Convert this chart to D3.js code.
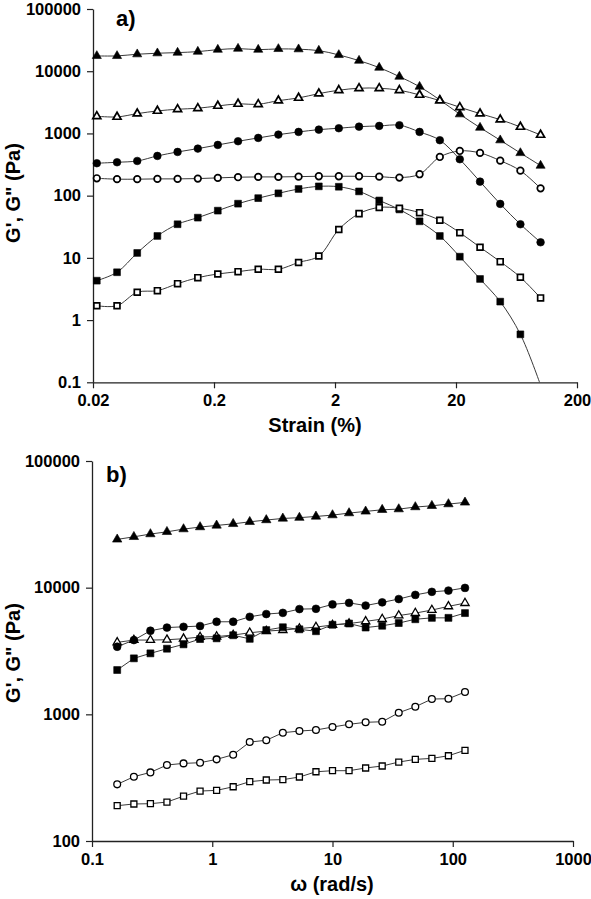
<!DOCTYPE html>
<html>
<head>
<meta charset="utf-8">
<script src="https://cdn.jsdelivr.net/npm/d3@7"></script>
<style>
  html, body { margin: 0; padding: 0; background: #fff; }
  svg { display: block; }
  text { font-family: "Liberation Sans", Arial, sans-serif; font-weight: bold; fill: #000; }
</style>
</head>
<body>
<svg id="chart" width="591" height="899"></svg>
<script>
// ---------- Panel a) : strain sweep ----------
const strain = [0.0215, 0.0316, 0.0464, 0.0681, 0.1, 0.147, 0.215, 0.316, 0.464, 0.681, 1, 1.47, 2.15, 3.16, 4.64, 6.81, 10, 14.7, 21.5, 31.6, 46.4, 68.1, 100];
const aFilledTriangle = [17620, 17620, 18760, 19460, 19910, 20650, 22230, 23070, 22230, 22830, 22580, 21440, 18280, 14800, 11430, 8190, 5650, 3456, 2035, 1240, 778, 485, 304];
const aOpenTriangle = [1890, 1841, 2080, 2300, 2449, 2541, 2768, 2980, 2945, 3366, 3720, 4365, 4950, 5330, 5330, 4950, 4160, 3366, 2638, 2080, 1667, 1272, 946];
const aFilledCircle = [332, 344, 361, 435, 504, 570, 653, 749, 847, 957, 1057, 1151, 1212, 1285, 1320, 1355, 1057, 778, 385, 168, 73.6, 34.7, 17.8];
const aOpenCircle = [190, 184, 184, 186, 186, 188, 193, 198, 200, 200, 202, 205, 205, 205, 202, 195, 221, 419, 523, 486, 365, 252, 131];
const aFilledSquare = [4.30, 5.87, 12.0, 22.5, 34.7, 44.3, 57.4, 74.3, 91.2, 109, 128, 141, 139, 117, 83.7, 60, 38.7, 22.5, 10.45, 4.58, 1.98, 0.59, 0.09];
const aOpenSquare = [1.70, 1.70, 2.80, 2.97, 3.85, 4.81, 5.51, 6.00, 6.56, 6.56, 8.43, 10.7, 28.6, 51.4, 64.6, 62.7, 53.3, 40.2, 25.4, 14.8, 8.69, 4.88, 2.27];
const aYTicks = [0.1, 1, 10, 100, 1000, 10000, 100000];
const aYTickLabels = ["0.1", "1", "10", "100", "1000", "10000", "100000"];
const aXTicks = [0.02, 0.2, 2, 20, 200];
const aXTickLabels = ["0.02", "0.2", "2", "20", "200"];

// ---------- Panel b) : frequency sweep ----------
const omega = [0.162, 0.223, 0.306, 0.420, 0.577, 0.792, 1.087, 1.493, 2.050, 2.814, 3.864, 5.306, 7.286, 10.0, 13.73, 18.86, 25.90, 35.56, 48.83, 67.05, 92.07, 126.4];
const bFilledTriangle = [24050, 25200, 26500, 27600, 29000, 30100, 31000, 31900, 33100, 34200, 35200, 35700, 36500, 37400, 38800, 40000, 41200, 41700, 43300, 44300, 45700, 47100];
const bOpenTriangle = [3700, 3858, 3858, 3880, 3953, 4075, 4110, 4225, 4405, 4542, 4625, 4754, 4887, 5070, 5210, 5420, 5650, 6024, 6300, 6657, 7118, 7554];
const bFilledCircle = [3417, 3858, 4570, 4842, 4910, 4977, 5380, 5380, 5890, 6190, 6325, 6775, 6810, 7380, 7585, 7225, 7655, 8130, 8770, 9270, 9485, 9960];
const bOpenCircle = [280, 322, 348, 398, 410, 415, 441, 480, 604, 624, 716, 738, 752, 794, 834, 865, 874, 1030, 1148, 1321, 1328, 1500];
const bFilledSquare = [2238, 2767, 3030, 3296, 3568, 3930, 3980, 4210, 3945, 4625, 4870, 4690, 4530, 5095, 5210, 4842, 5003, 5256, 5632, 5777, 5777, 6300];
const bOpenSquare = [190, 196, 197, 203, 226, 248, 251, 268, 294, 303, 305, 320, 352, 359, 359, 377, 391, 420, 441, 449, 471, 520];
const bYTicks = [100, 1000, 10000, 100000];
const bYTickLabels = ["100", "1000", "10000", "100000"];
const bXTicks = [0.1, 1, 10, 100, 1000];
const bXTickLabels = ["0.1", "1", "10", "100", "1000"];

const yTitle = "G', G\" (Pa)";
const aXTitle = "Strain (%)";
const bXTitle = "ω (rad/s)";

const svg = d3.select("#chart");

function drawPanel(cfg) {
  const x = d3.scaleLog().domain(cfg.xDomain).range(cfg.xRange);
  const y = d3.scaleLog().domain(cfg.yDomain).range(cfg.yRange);
  const g = svg.append("g");

  const clipId = "clip-" + cfg.id;
  svg.append("clipPath").attr("id", clipId).append("rect")
    .attr("x", cfg.xRange[0]).attr("y", cfg.yRange[1])
    .attr("width", cfg.xRange[1] - cfg.xRange[0])
    .attr("height", cfg.yRange[0] - cfg.yRange[1]);

  // axes
  const yAxis = d3.axisLeft(y).tickValues(cfg.yTicks)
    .tickFormat((d, i) => cfg.yTickLabels[i]).tickSize(6).tickSizeOuter(0).tickPadding(6);
  const xAxis = d3.axisBottom(x).tickValues(cfg.xTicks)
    .tickFormat((d, i) => cfg.xTickLabels[i]).tickSize(6).tickSizeOuter(0).tickPadding(6);

  const ya = g.append("g").attr("transform", `translate(${cfg.xRange[0]},0)`).call(yAxis);
  const xa = g.append("g").attr("transform", `translate(0,${cfg.yRange[0]})`).call(xAxis);
  [ya, xa].forEach(a => {
    a.select(".domain").attr("stroke", "#222").attr("stroke-width", 1.3);
    a.selectAll(".tick line").attr("stroke", "#222").attr("stroke-width", 1.2);
    a.selectAll(".tick text").style("font-family", "'Liberation Sans', Arial, sans-serif")
      .style("font-weight", "bold").style("font-size", "16.5px").attr("fill", "#000");
  });

  // series
  const plot = g.append("g").attr("clip-path", `url(#${clipId})`);
  const line = d3.line().x(d => x(d[0])).y(d => y(d[1])).curve(cfg.curve);
  cfg.series.forEach(s => {
    const pts = cfg.xs.map((xv, i) => [xv, s.values[i]]);
    plot.append("path").datum(pts).attr("d", line)
      .attr("fill", "none").attr("stroke", "#3a3a3a").attr("stroke-width", 1);
  });
  cfg.series.forEach(s => {
    const pts = cfg.xs.map((xv, i) => [xv, s.values[i]])
      .filter(d => d[1] >= cfg.yDomain[0]);
    const sym = d3.symbol().type(s.shape).size(s.size);
    g.append("g").selectAll("path").data(pts).join("path")
      .attr("transform", d => `translate(${x(d[0])},${y(d[1])})`)
      .attr("d", sym)
      .attr("fill", s.filled ? "#000" : "#fff")
      .attr("stroke", "#000")
      .attr("stroke-width", s.filled ? 0.6 : cfg.openStroke);
  });

  // labels
  g.append("text").attr("x", cfg.tag[0]).attr("y", cfg.tag[1])
    .style("font-size", "22px").text(cfg.tagText);
  g.append("text")
    .attr("transform", `translate(${cfg.yTitlePos[0]},${cfg.yTitlePos[1]}) rotate(-90)`)
    .attr("text-anchor", "middle").style("font-size", "20px").text(yTitle);
  g.append("text").attr("x", cfg.xTitlePos[0]).attr("y", cfg.xTitlePos[1])
    .attr("text-anchor", "middle").style("font-size", "20px").text(cfg.xTitle);
}

const S = { tri: d3.symbolTriangle, cir: d3.symbolCircle, sq: d3.symbolSquare };

drawPanel({
  id: "a",
  xDomain: [0.02, 200], xRange: [93, 577],
  yDomain: [0.1, 100000], yRange: [382.3, 9],
  xTicks: aXTicks, xTickLabels: aXTickLabels,
  yTicks: aYTicks, yTickLabels: aYTickLabels,
  xs: strain,
  curve: d3.curveCatmullRom.alpha(0.5),
  openStroke: 1.7,
  series: [
    { values: aFilledTriangle, shape: S.tri, filled: true, size: 36 },
    { values: aOpenTriangle, shape: S.tri, filled: false, size: 28 },
    { values: aFilledCircle, shape: S.cir, filled: true, size: 46 },
    { values: aOpenCircle, shape: S.cir, filled: false, size: 34 },
    { values: aFilledSquare, shape: S.sq, filled: true, size: 46 },
    { values: aOpenSquare, shape: S.sq, filled: false, size: 34 }
  ],
  tag: [116, 26], tagText: "a)",
  yTitlePos: [20, 193],
  xTitle: aXTitle, xTitlePos: [315, 432]
});

drawPanel({
  id: "b",
  xDomain: [0.1, 1000], xRange: [92, 573],
  yDomain: [100, 100000], yRange: [841, 461],
  xTicks: bXTicks, xTickLabels: bXTickLabels,
  yTicks: bYTicks, yTickLabels: bYTickLabels,
  xs: omega,
  curve: d3.curveLinear,
  openStroke: 1.3,
  series: [
    { values: bFilledTriangle, shape: S.tri, filled: true, size: 38 },
    { values: bOpenTriangle, shape: S.tri, filled: false, size: 30 },
    { values: bFilledCircle, shape: S.cir, filled: true, size: 48 },
    { values: bOpenCircle, shape: S.cir, filled: false, size: 36 },
    { values: bFilledSquare, shape: S.sq, filled: true, size: 48 },
    { values: bOpenSquare, shape: S.sq, filled: false, size: 36 }
  ],
  tag: [106, 482], tagText: "b)",
  yTitlePos: [20, 653],
  xTitle: bXTitle, xTitlePos: [332, 891]
});
</script>
</body>
</html>
